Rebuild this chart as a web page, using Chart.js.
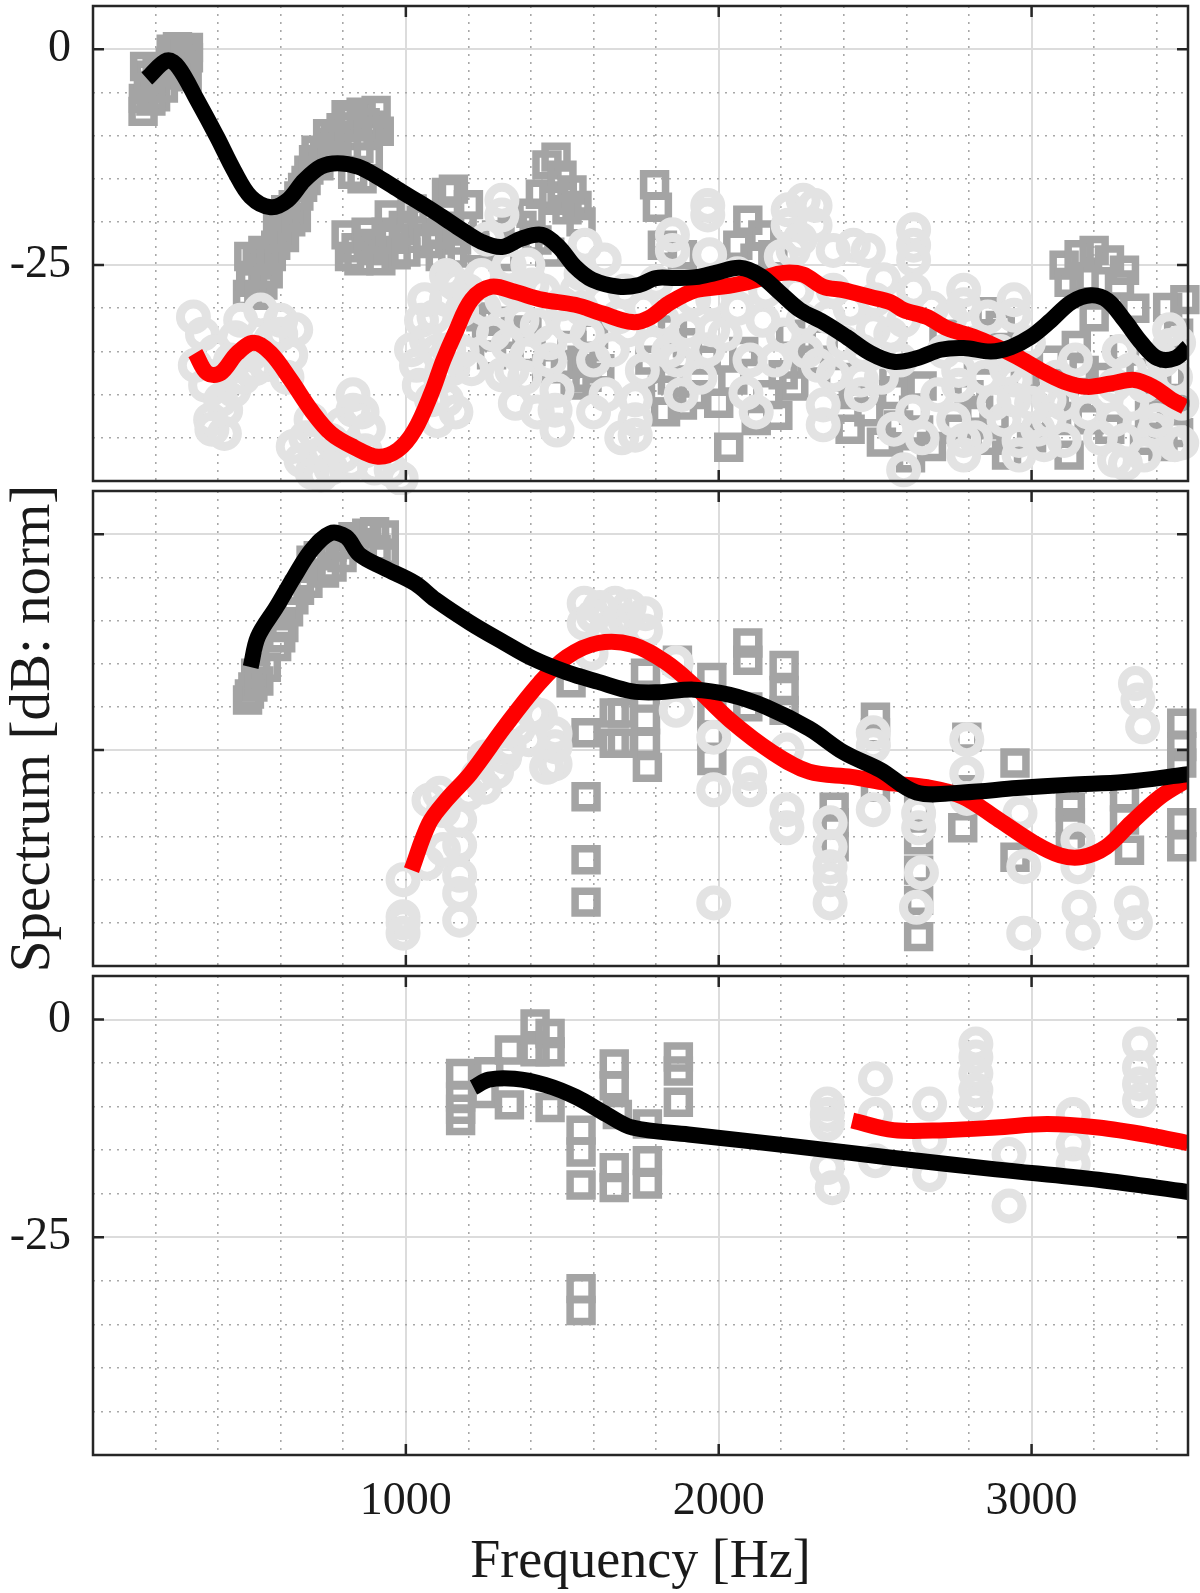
<!DOCTYPE html>
<html>
<head>
<meta charset="utf-8">
<script src="https://cdn.jsdelivr.net/npm/chart.js@4.4.0/dist/chart.umd.min.js"></script>
<style>
  html, body { margin: 0; padding: 0; background: #fff; }
  #wrap { position: relative; width: 1200px; height: 1593px; overflow: hidden; }
  canvas { position: absolute; left: 0; }
</style>
</head>
<body>
<div id="wrap">
  <canvas id="panel1"></canvas>
  <canvas id="panel2"></canvas>
  <canvas id="panel3"></canvas>
</div>
<script>
// axis ranges and ticks
const xRange = [0, 3500];
const yRange = [-50, 5];
const xMajor = [1000, 2000, 3000];
const xGrid = [200, 400, 600, 800, 1000, 1200, 1400, 1600, 1800, 2000, 2200, 2400, 2600, 2800, 3000, 3200, 3400];
const yMajor = [0, -25];
const yGrid = [-45, -40, -35, -30, -25, -20, -15, -10, -5, 0];

// panel 1 curves [Hz, dB]
const p1Black = [[172,-3.4],[237,-1.3],[273,-2.1],[333,-5.9],[397,-10.2],[450,-14],[504,-17.1],[568,-18.3],[622,-17.5],[675,-15.2],[729,-13.6],[782,-13.2],[847,-13.6],[911,-14.8],[986,-16.5],[1060,-18.1],[1124,-19.6],[1178,-20.9],[1242,-22.3],[1307,-22.9],[1371,-21.9],[1435,-21.5],[1489,-22.9],[1541,-25.2],[1596,-26.7],[1681,-27.5],[1745,-27.3],[1799,-26.5],[1862,-26.5],[1926,-26.4],[1990,-25.9],[2067,-25.3],[2132,-26.2],[2196,-28.2],[2260,-30.2],[2334,-31.6],[2408,-33.3],[2485,-35.2],[2559,-36.2],[2633,-35.8],[2709,-34.8],[2783,-34.6],[2870,-35],[2934,-34.5],[2998,-33.3],[3062,-31.4],[3127,-29.3],[3191,-28.5],[3243,-29.1],[3297,-31.4],[3351,-34],[3403,-35.8],[3458,-35.8],[3500,-34.5]];
const p1Red = [[327,-35.2],[365,-37.5],[408,-37.5],[461,-35.2],[514,-34],[568,-35.2],[632,-38.3],[697,-41.8],[761,-44.5],[835,-46.1],[911,-47.2],[975,-46.4],[1028,-44.1],[1082,-39.8],[1120,-36],[1157,-32.9],[1210,-29],[1274,-27.5],[1348,-28.1],[1435,-29],[1541,-29.6],[1628,-30.6],[1724,-31.6],[1778,-31.1],[1842,-29.4],[1926,-27.9],[2013,-27.5],[2077,-27.1],[2141,-26.5],[2206,-25.9],[2270,-26.1],[2334,-27.5],[2398,-27.9],[2485,-28.7],[2549,-29.3],[2591,-30.2],[2665,-31],[2729,-32.3],[2815,-33.3],[2880,-34.3],[2953,-35.6],[3030,-37.2],[3104,-38.5],[3178,-39.1],[3255,-38.7],[3329,-38.3],[3393,-39.2],[3448,-40.6],[3490,-41.4]];

// panel 1 markers
const p1Squares = [[161,-5.7],[183,-4.2],[209,-3],[247,-1.5],[289,-0.1],[305,-1],[177,-3],[160,-7.2],[200,-5.5],[301,-3.2],
  [165,-2],[185,-6],[205,-2.2],[225,-4.5],[225,-2.5],[250,0],[270,-1.2],[290,-2.4],[270,0.3],[305,0.2],
  [494,-28.4],[543,-27.3],[504,-26.2],[549,-25],[498,-24],[543,-23.3],[584,-22.7],[600,-21.2],[632,-20],[616,-18.6],[658,-17],[681,-15.2],[722,-13.5],[713,-11.7],[761,-10.8],[793,-9.1],[809,-7.6],[857,-7.3],[896,-8.8],[905,-7.1],[841,-10],
  [510,-27],[530,-28.5],[560,-26],[525,-24.5],[570,-24],[590,-20.5],[612,-21.8],[640,-18],[650,-19.5],[670,-16],[690,-14],[705,-12.8],[740,-12],[750,-9.8],[775,-10.5],[820,-9],[830,-8],[870,-8.5],[880,-10],[915,-9.5],[850,-11.5],[880,-12.5],[830,-14.5],[860,-15],
  [809,-21.5],[841,-23],[873,-21.2],[905,-23.3],[937,-21.2],[969,-23.8],[947,-19.2],[992,-20.4],[1034,-21.9],[1050,-19.8],[1098,-21.2],[1130,-16.6],[1140,-19.2],[1162,-22.1],[1152,-16.2],[1150,-23.6],
  [820,-24],[850,-24.5],[880,-22.5],[920,-24.5],[960,-22],[1000,-23.5],[1020,-18.5],[1070,-22.5],[1110,-24],[1180,-20.5],[1200,-18],[1220,-23],[1290,-21.5],[1310,-24],[1340,-21],[1400,-19],[1430,-16.8],[1480,-12.5],[1500,-17],[1560,-20],
  [1451,-13.4],[1499,-14.6],[1531,-16.3],[1473,-17.5],[1547,-18.1],[1515,-18.6],[1371,-20.4],[1419,-22.1],[1460,-23.5],[1258,-33.3],[1274,-35.4],[1387,-32.5],[1531,-34.3],[1563,-36],[1579,-38],[1541,-38.9],
  [1240,-31],[1280,-31.5],[1330,-33],[1400,-35],[1450,-37],[1510,-36.5],[1600,-33],[1620,-37],
  [1795,-15.7],[1804,-18.3],[1820,-22.7],[1884,-23.8],[1820,-39.5],[1884,-41.2],[1852,-38.3],[1852,-32.5],[1900,-34],[2032,-46.1],
  [1780,-36],[1830,-42],[1920,-40],[1960,-36],[2000,-41],[2080,-35],[2120,-43],[2240,-39],[2230,-33],
  [2093,-19.8],[2141,-21.5],[2061,-22.7],[2173,-23.8],[2116,-24.2],[2045,-38.3],[2157,-40],[2206,-37.7],[2189,-42.4],
  [2334,-33.7],[2430,-40],[2559,-40],[2623,-41.8],[2575,-43.5],[2639,-44.1],[2613,-47.3],[2831,-41.8],[2880,-43.5],[2864,-45.3],[2864,-30.4],
  [2300,-36],[2380,-38],[2420,-44],[2480,-42],[2520,-45.5],[2560,-37],[2650,-39],[2680,-46],
  [2720,-33],[2760,-44],[2800,-40],[2830,-36],[2900,-32],[2920,-47],[2980,-38],[3000,-45],
  [3104,-25],[3152,-23.8],[3200,-23.3],[3249,-24.4],[3297,-25.6],[3168,-26.7],[3281,-27.3],[3120,-27],[3435,-29.9],
  [3143,-34.3],[3168,-37.2],[3143,-40],[3184,-42.9],[3377,-42.4],[3361,-45.3],[3297,-34.8],[3470,-32.9],[3445,-37.9],[3470,-44.4],
  [3060,-36],[3080,-43],[3120,-47],[3200,-31],[3220,-38],[3250,-44],[3330,-30],[3350,-37.5],[3400,-39],[3420,-46],[3460,-41],[3490,-29]];
const p1Circles = [[321,-31],[327,-36.6],[360,-38.9],[408,-40.6],[376,-42.9],[424,-41.8],[472,-31.4],[536,-30.2],[600,-31.4],[648,-32.5],[568,-33.7],[504,-35.4],[632,-35.4],[456,-33.4],
  [350,-33],[390,-35],[430,-37],[450,-39.5],[480,-38],[520,-37],[560,-36.5],[600,-33],[620,-38],[380,-44],[420,-44.5],[440,-36],
  [697,-42.9],[761,-45.3],[665,-47.6],[825,-48.1],[831,-40],[831,-41.8],[793,-43.5],[729,-49.3],[953,-48.7],[985,-49.7],
  [680,-45],[720,-47],[760,-48.5],[800,-47],[870,-46.5],[900,-48.5],[860,-42],[880,-44],[700,-49],[640,-46],
  [1050,-31.4],[1018,-34.8],[1034,-36.6],[1043,-38.9],[1082,-40.6],[1066,-33.7],[1130,-29],[1162,-27.3],[1130,-26.2],[1146,-26.9],[1178,-30.2],[1137,-34.8],[1130,-40.6],[1210,-32.5],
  [1060,-29],[1090,-31],[1100,-35],[1110,-38],[1150,-37],[1180,-35],[1200,-28],[1100,-43],[1160,-42],[1210,-37],
  [1307,-17.5],[1307,-19.2],[1242,-26.2],[1307,-29],[1371,-31.4],[1326,-34.3],[1387,-35.4],[1339,-37.2],[1307,-37.7],[1403,-27.3],[1440,-28],[1500,-29.5],[1560,-30],
  [1250,-30],[1280,-33],[1350,-28],[1380,-38],[1420,-32],[1460,-34],[1350,-41],[1420,-42],[1460,-36],[1390,-25],[1260,-22],[1330,-25],
  [1483,-39.5],[1477,-41.8],[1483,-44.1],[1573,-22.7],[1634,-24.4],[1547,-27.9],[1628,-29],[1710,-32.5],[1788,-34.3],[1868,-36],[1660,-34.8],[1756,-37.2],[1900,-32.5],[1820,-31.4],
  [1520,-32],[1580,-33],[1600,-36],[1640,-40],[1680,-31],[1700,-28],[1760,-30],[1800,-27],[1840,-35],[1880,-40],[1920,-29],[1940,-38],[1690,-45],[1600,-42],[1560,-26],
  [1733,-40.6],[1733,-42.9],[1733,-44.7],[1852,-21.5],[1852,-23.3],[1965,-18.1],[1965,-19.2],[1971,-23.8],[1981,-29],[1981,-32.5],[1965,-34.8],[2087,-39.8],
  [2222,-18.6],[2222,-20.4],[2238,-23.3],[2270,-17.5],[2141,-31.4],[2206,-33.1],[2270,-31.4],[2308,-18.1],[2308,-20.4],[2366,-23.3],[2430,-22.7],[2478,-23.3],
  [2020,-33],[2060,-30],[2100,-36],[2150,-28],[2180,-36],[2250,-28],[2280,-35],[2120,-42],[2200,-24],[2260,-22],[2350,-31],[2400,-34],[2060,-26],
  [2623,-20.9],[2623,-22.7],[2623,-24.4],[2527,-26.7],[2623,-27.9],[2366,-27.9],[2318,-36.6],[2366,-37.7],[2456,-38.3],[2456,-40],[2334,-41.2],[2334,-43.5],[2494,-32.5],[2591,-31.4],[2591,-48.7],
  [2420,-30],[2460,-35],[2520,-38],[2550,-33],[2580,-36],[2620,-42],[2650,-45],[2700,-40],[2720,-35],[2740,-31],[2560,-44],[2680,-30],[2500,-29],
  [2767,-37.2],[2767,-38.9],[2751,-42.9],[2783,-45.3],[2783,-47],[2783,-27.9],[2783,-29.6],[2944,-29],[2944,-30.8],[2944,-38.3],[2944,-40.6],[2912,-42.9],[2960,-45.3],[2960,-47],
  [2820,-34],[2850,-38],[2880,-41],[2900,-35],[2920,-37],[2990,-34],[3000,-41],[3020,-44],[3080,-38],[3100,-41],[2860,-31],[2820,-45],
  [3056,-40.6],[3056,-42.9],[3104,-45.3],[3040,-45.8],[3265,-42.9],[3297,-45.3],[3265,-47.6],[3265,-38.9],[3313,-37.2],[3441,-32.5],[3441,-34.3],[3393,-44.1],[3458,-45.8],[3470,-34],[3480,-45.6],
  [3140,-36],[3180,-42],[3220,-45],[3240,-40],[3280,-35],[3320,-41],[3360,-39],[3400,-43],[3420,-36],[3460,-38],[3480,-41],[3360,-47],[3300,-48]];

// panel 2
const p2Black = [[504,-15.4],[527,-11.9],[587,-8.4],[642,-5],[697,-1.9],[758,0.1],[809,-0.3],[853,-2.4],[930,-3.9],[1030,-5.7],[1095,-7.6],[1207,-10.3],[1316,-12.6],[1406,-14.4],[1515,-16],[1615,-17.1],[1724,-18.2],[1806,-18.3],[1920,-18],[2035,-18.6],[2151,-20],[2289,-22.5],[2401,-25.3],[2517,-27.3],[2632,-29.9],[2780,-29.9],[2953,-29.4],[3124,-29],[3297,-28.7],[3500,-27.8]];
const p2Red = [[1018,-38.9],[1074,-33.5],[1129,-30.8],[1207,-27.7],[1316,-22.3],[1428,-17.2],[1515,-14.2],[1615,-12.6],[1724,-12.8],[1830,-14.8],[1920,-17.5],[2035,-21.5],[2173,-25.3],[2289,-27.5],[2425,-28.1],[2539,-28.8],[2666,-29.3],[2780,-30.4],[2896,-33.1],[3010,-35.8],[3091,-37.2],[3159,-37.4],[3239,-36.2],[3319,-33.4],[3412,-30.4],[3500,-28.4]];
const p2Squares = [[494,-19.2],[511,-17.7],[520,-16.1],[554,-15.4],[587,-13],[610,-10.8],[642,-7.6],[687,-5.7],[697,-3],[764,-3.8],[796,-2.7],[831,-0.3],[875,0.1],[931,-0.1],[931,-2.2],[764,-1.5],
  [500,-18.5],[530,-17],[600,-12],[625,-9],[660,-6.5],[720,-2.5],[740,-4.5],[810,-1.2],[860,-1],[900,0.3],[905,-1.8],
  [1576,-30.4],[1576,-37.7],[1576,-42.6],[1576,-23],[1666,-24.2],[1666,-20.7],[1528,-17.2],[1766,-16.1],[1766,-18.9],[1766,-21.5],[1766,-24.2],[1772,-27],[1692,-20.7],[1692,-24.2],
  [1868,-14.6],[1978,-16.6],[1978,-20.7],[1978,-23.3],[1978,-26.2],[2093,-12.6],[2093,-14.6],[2093,-20],[2209,-15.2],[2209,-18.1],[2209,-20.4],
  [2369,-31.6],[2369,-33.4],[2369,-36.2],[2501,-21.2],[2501,-23],[2501,-29.3],[2639,-31.9],[2639,-35.4],[2639,-38.9],[2639,-42.4],[2639,-46.6],
  [2793,-23.5],[2793,-29.6],[2780,-34],[2947,-26.5],[2947,-37.4],[3124,-31.6],[3124,-33.4],[3124,-36.2],[3297,-30.4],[3297,-33.1],[3313,-36.6],
  [3480,-21.9],[3480,-24.6],[3480,-26.5],[3480,-33.4],[3480,-36.2]];
const p2Circles = [[991,-40],[991,-44.3],[991,-45],[991,-46.2],[1074,-30.8],[1108,-30],[1068,-38.1],[1172,-33.1],[1172,-36],[1172,-39.5],[1172,-41.6],[1172,-44.7],
  [1251,-25.8],[1251,-29.3],[1316,-25.8],[1393,-23.8],[1477,-24.6],[1477,-26.6],[1477,-23.1],[1406,-20.7],
  [1120,-32],[1200,-30],[1230,-28],[1290,-27.5],[1330,-24.5],[1360,-22.5],[1430,-21],[1450,-27],[1120,-36.5],
  [1570,-8],[1570,-10.3],[1669,-8],[1669,-10.3],[1592,-13.8],[1714,-8.4],[1766,-9.2],[1766,-11.2],[1864,-14.9],[1864,-20.4],
  [1600,-9.5],[1640,-11],[1700,-10],[1620,-8.5],
  [1984,-23.5],[1984,-29.6],[1984,-42.7],[2099,-27.7],[2099,-29.6],[2218,-25],[2218,-31.9],[2218,-34],
  [2356,-33.4],[2356,-36.2],[2356,-38.5],[2356,-40],[2356,-42.7],[2494,-23],[2494,-24.5],[2494,-31.9],
  [2639,-32.3],[2639,-34],[2648,-39.2],[2632,-43.2],[2793,-23.8],[2793,-27.7],[2793,-30.6],[2963,-32.3],[2975,-38.5],[2975,-46.2],
  [3148,-35.4],[3148,-38.5],[3152,-43.2],[3165,-46.2],[3319,-42.7],[3332,-45],[3332,-17.3],[3340,-19.2],[3355,-22.3]];

// panel 3
const p3Black = [[1216,-7.8],[1265,-6.9],[1347,-6.8],[1445,-7.5],[1544,-8.9],[1642,-10.9],[1724,-12.4],[1904,-13.2],[2231,-14.5],[2559,-15.9],[2886,-17.2],[3213,-18.4],[3500,-19.8]];
const p3Red = [[2427,-11.6],[2559,-12.7],[2722,-12.7],[2886,-12.4],[3050,-12],[3213,-12.4],[3377,-13.3],[3500,-14.2]];
const p3Squares = [[1175,-6.2],[1175,-8.9],[1175,-11.6],[1175,-10.3],[1265,-6],[1250,-8.5],[1331,-3.5],[1331,-9.8],[1413,-0.5],[1413,-3.7],[1461,-1.6],[1461,-3.7],[1461,-10.1],
  [1560,-12.7],[1560,-15.2],[1560,-19],[1666,-5.1],[1666,-7.6],[1676,-10.9],[1666,-17],[1666,-19.3],[1772,-12],[1772,-16.2],[1772,-18.9],[1871,-4.3],[1871,-5.9],[1871,-9.5],[1560,-30.9],[1560,-33.4]];
const p3Circles = [[2347,-9.7],[2347,-10.9],[2347,-12],[2347,-17],[2363,-19.3],[2501,-6.8],[2501,-10.9],[2501,-16.2],[2674,-9.7],[2674,-13.9],[2674,-17.8],
  [2822,-2.8],[2822,-4.3],[2822,-6.2],[2822,-8.1],[2822,-9.7],[2928,-15.5],[2928,-21.4],[3133,-10.9],[3133,-14.3],[3133,-16.6],[3345,-2.8],[3345,-5.5],[3345,-7.4],[3345,-9.3]];

const FONT = "'Liberation Serif', 'Times New Roman', serif";
const TEXT = '#1a1a1a';

function toXY(pairs) {
  return pairs.map(p => ({ x: p[0], y: p[1] }));
}

function lineSet(pairs, color, order) {
  return {
    data: toXY(pairs), showLine: true, borderColor: color, borderWidth: 16,
    pointRadius: 0, tension: 0.35, borderCapStyle: 'butt', borderJoinStyle: 'round', order: order
  };
}

function markerSet(pairs, style) {
  const sq = style === 'rect';
  return {
    data: toXY(pairs), showLine: false, pointStyle: style,
    pointRadius: sq ? 15.5 : 13, pointBorderWidth: sq ? 7.5 : 9,
    pointBorderColor: sq ? '#a4a4a4' : '#e3e3e3', pointBackgroundColor: 'rgba(0,0,0,0)',
    pointHoverRadius: 0, clip: false, order: sq ? 3 : 2
  };
}

// box and inward tick marks like the matlab axes
const framePlugin = {
  id: 'frame',
  afterDatasetsDraw(chart) {
    const { ctx, chartArea: a, scales: { x, y } } = chart;
    ctx.save();
    ctx.strokeStyle = '#262626';
    ctx.lineWidth = 2.5;
    ctx.strokeRect(a.left, a.top, a.right - a.left, a.bottom - a.top);
    ctx.beginPath();
    xMajor.forEach(v => {
      const px = x.getPixelForValue(v);
      ctx.moveTo(px, a.bottom); ctx.lineTo(px, a.bottom - 11);
      ctx.moveTo(px, a.top); ctx.lineTo(px, a.top + 11);
    });
    yMajor.forEach(v => {
      const py = y.getPixelForValue(v);
      ctx.moveTo(a.left, py); ctx.lineTo(a.left + 11, py);
      ctx.moveTo(a.right, py); ctx.lineTo(a.right - 11, py);
    });
    ctx.stroke();
    ctx.restore();
  }
};

function isMajor(c, majors) {
  return !!(c.tick && majors.includes(c.tick.value));
}

function makePanel(id, cfg) {
  const canvas = document.getElementById(id);
  canvas.width = 1200;
  canvas.height = cfg.height;
  canvas.style.top = cfg.top + 'px';
  const padTop = cfg.areaTop - cfg.top;
  const xHeight = cfg.top + cfg.height - cfg.areaBottom;

  return new Chart(canvas.getContext('2d'), {
    type: 'scatter',
    data: {
      datasets: [
        lineSet(cfg.black, '#000000', 0),
        lineSet(cfg.red, '#ff0000', 1),
        markerSet(cfg.circles, 'circle'),
        markerSet(cfg.squares, 'rect')
      ]
    },
    options: {
      responsive: false,
      animation: false,
      devicePixelRatio: 1,
      events: [],
      layout: { autoPadding: false, padding: { top: padTop, right: 12, bottom: 0, left: 0 } },
      plugins: { legend: { display: false }, tooltip: { enabled: false } },
      scales: {
        x: {
          type: 'linear', min: xRange[0], max: xRange[1],
          afterBuildTicks: s => { s.ticks = xGrid.map(v => ({ value: v })); },
          afterFit: s => { s.height = xHeight; s.paddingLeft = 0; s.paddingRight = 0; },
          grid: {
            drawTicks: false,
            color: c => isMajor(c, xMajor) ? '#dcdcdc' : '#a8a8a8',
            lineWidth: c => isMajor(c, xMajor) ? 2 : 1.6
          },
          border: { display: false, dash: c => isMajor(c, xMajor) ? [] : [2, 6] },
          ticks: {
            display: cfg.showX, autoSkip: false, maxRotation: 0, padding: 19,
            color: TEXT, font: { family: FONT, size: 46 },
            callback: v => xMajor.includes(v) ? String(v) : ''
          },
          title: {
            display: cfg.showX, text: 'Frequency [Hz]', color: TEXT,
            font: { family: FONT, size: 54, lineHeight: 1.1 }, padding: { top: 0, bottom: 0 }
          }
        },
        y: {
          type: 'linear', min: yRange[0], max: yRange[1],
          afterBuildTicks: s => { s.ticks = yGrid.map(v => ({ value: v })); },
          afterFit: s => { s.width = 93; s.paddingTop = 0; s.paddingBottom = 0; },
          grid: {
            drawTicks: false,
            color: c => isMajor(c, yMajor) ? '#dcdcdc' : '#a8a8a8',
            lineWidth: c => isMajor(c, yMajor) ? 2 : 1.6
          },
          border: { display: false, dash: c => isMajor(c, yMajor) ? [] : [2, 6] },
          ticks: {
            display: cfg.showY, autoSkip: false, padding: 22,
            color: TEXT, font: { family: FONT, size: 46 },
            callback: v => yMajor.includes(v) ? String(v) : ''
          },
          title: {
            display: cfg.yTitle, text: 'Spectrum [dB: norm]', color: TEXT,
            font: { family: FONT, size: 57 }, padding: { top: 0, bottom: 0 }
          }
        }
      }
    },
    plugins: [framePlugin]
  });
}

makePanel('panel1', { top: 0, height: 495, areaTop: 6, areaBottom: 481,
  black: p1Black, red: p1Red, squares: p1Squares, circles: p1Circles, showX: false, showY: true, yTitle: false });
makePanel('panel2', { top: 478, height: 500, areaTop: 491, areaBottom: 966,
  black: p2Black, red: p2Red, squares: p2Squares, circles: p2Circles, showX: false, showY: false, yTitle: true });
makePanel('panel3', { top: 960, height: 633, areaTop: 976, areaBottom: 1455,
  black: p3Black, red: p3Red, squares: p3Squares, circles: p3Circles, showX: true, showY: true, yTitle: false });
</script>
</body>
</html>
